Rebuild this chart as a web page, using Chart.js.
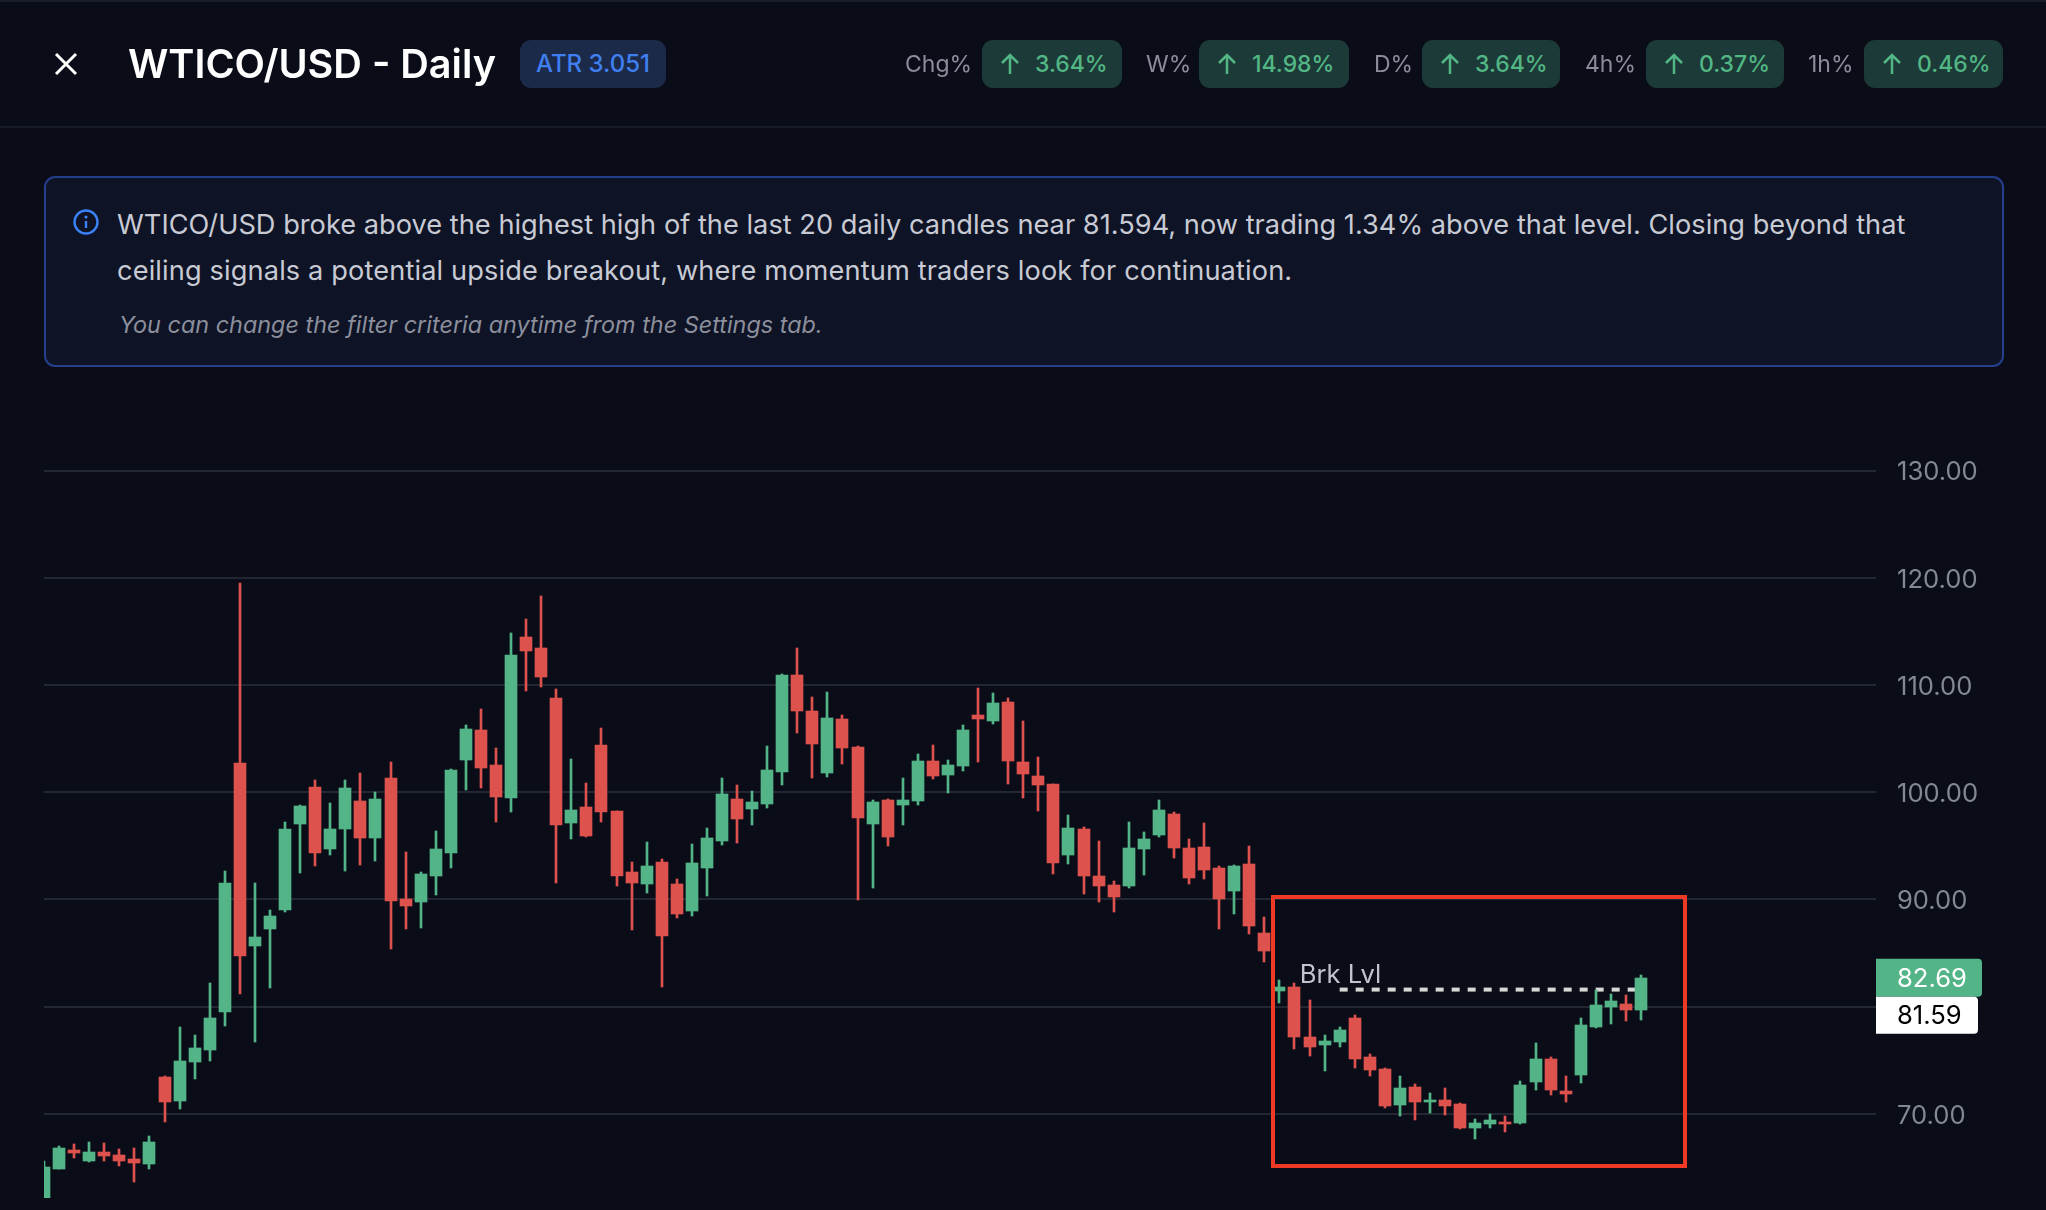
<!DOCTYPE html>
<html>
<head>
<meta charset="utf-8">
<title>WTICO/USD - Daily</title>
<script src="https://cdn.jsdelivr.net/npm/chart.js@4"></script>
<style>
  * { box-sizing: border-box; }
  html, body { margin: 0; width: 2046px; height: 1210px; overflow: hidden; background: #0a0c18; font-family: Inter, "Noto Sans", sans-serif; }
  #chart { position: absolute; left: 0; top: 0; }
  .topline { position: absolute; left: 0; top: 0; width: 2046px; height: 2px; background: #191d2b; }
  .divider { position: absolute; left: 0; top: 126px; width: 2046px; height: 2px; background: #161a27; }
  .close { position: absolute; left: 54px; top: 52px; }
  h1 { position: absolute; left: 128px; top: 40px; margin: 0; font-size: 39.6px; line-height: 48px; font-weight: 600; color: #fff; white-space: nowrap; }
  .atr { position: absolute; left: 520px; top: 40px; width: 146px; height: 48px; border-radius: 11px; background: #1c2a4a; color: #3f7ff0; font-size: 24px; font-weight: 500; line-height: 48px; text-align: center; }
  .lbl { position: absolute; top: 40px; height: 48px; line-height: 48px; font-size: 23px; color: #8b8e9a; white-space: nowrap; }
  .pill { position: absolute; top: 40px; height: 48px; border-radius: 11px; background: #1c3a37; color: #52b685; font-size: 23px; font-weight: 500; line-height: 48px; white-space: nowrap; padding-left: 53px; }
  .pill svg { position: absolute; left: 16px; top: 12px; }
  .info { position: absolute; left: 44px; top: 176px; width: 1960px; height: 191px; border: 2px solid #263f8c; border-radius: 11px; background: #0e1326; }
  .info svg { position: absolute; left: 27px; top: 31px; }
  .info p { position: absolute; left: 71px; margin: 0; color: #c8cad4; font-size: 27.2px; line-height: 46px; white-space: nowrap; }
  .info .note { left: 73px; top: 129px; color: #8c8f9c; font-size: 23.4px; line-height: 36px; font-style: italic; }
  .box { position: absolute; left: 1271px; top: 895px; width: 416px; height: 273px; border: 4px solid #ee3a24; }
</style>
</head>
<body>
<canvas id="chart" width="2046" height="1210"></canvas>

<div class="topline"></div>
<svg class="close" width="24" height="24" viewBox="0 0 24 24"><path d="M2 2 L22 22 M22 2 L2 22" stroke="#fff" stroke-width="3" fill="none"/></svg>
<h1>WTICO/USD - Daily</h1>
<div class="atr">ATR 3.051</div>

<div class="lbl" style="left:905px">Chg%</div>
<div class="pill" style="left:982px;width:140px"><svg width="24" height="24" viewBox="0 0 24 24"><path d="M12 22 V3 M4 11 L12 3 L20 11" stroke="#52b685" stroke-width="2.5" fill="none"/></svg>3.64%</div>
<div class="lbl" style="left:1146px">W%</div>
<div class="pill" style="left:1199px;width:150px"><svg width="24" height="24" viewBox="0 0 24 24"><path d="M12 22 V3 M4 11 L12 3 L20 11" stroke="#52b685" stroke-width="2.5" fill="none"/></svg>14.98%</div>
<div class="lbl" style="left:1374px">D%</div>
<div class="pill" style="left:1422px;width:138px"><svg width="24" height="24" viewBox="0 0 24 24"><path d="M12 22 V3 M4 11 L12 3 L20 11" stroke="#52b685" stroke-width="2.5" fill="none"/></svg>3.64%</div>
<div class="lbl" style="left:1585px">4h%</div>
<div class="pill" style="left:1646px;width:138px"><svg width="24" height="24" viewBox="0 0 24 24"><path d="M12 22 V3 M4 11 L12 3 L20 11" stroke="#52b685" stroke-width="2.5" fill="none"/></svg>0.37%</div>
<div class="lbl" style="left:1808px">1h%</div>
<div class="pill" style="left:1864px;width:139px"><svg width="24" height="24" viewBox="0 0 24 24"><path d="M12 22 V3 M4 11 L12 3 L20 11" stroke="#52b685" stroke-width="2.5" fill="none"/></svg>0.46%</div>
<div class="divider"></div>

<div class="info">
  <svg width="26" height="26" viewBox="0 0 26 26"><circle cx="13" cy="13" r="11.5" stroke="#3b82f6" stroke-width="2.4" fill="none"/><path d="M13 12 V19" stroke="#3b82f6" stroke-width="2.4"/><circle cx="13" cy="8" r="1.6" fill="#3b82f6"/></svg>
  <p style="top:24px;letter-spacing:.02px">WTICO/USD broke above the highest high of the last 20 daily candles near 81.594, now trading 1.34% above that level. Closing beyond that</p>
  <p style="top:70px;letter-spacing:.13px">ceiling signals a potential upside breakout, where momentum traders look for continuation.</p>
  <p class="note">You can change the filter criteria anytime from the Settings tab.</p>
</div>

<div class="box"></div>

<script>
const opens = [62.11, 64.82, 66.61, 65.58, 66.42, 66.15, 65.77, 65.31, 73.43, 71.18,
    74.84, 75.94, 79.49, 102.72, 85.66, 87.22, 89.01, 97.05, 100.48, 94.69,
    96.55, 99.19, 95.74, 101.34, 90.05, 89.77, 92.19, 94.34, 103.02, 105.82,
    102.55, 99.47, 114.49, 113.47, 108.80, 97.14, 98.63, 104.42, 98.26, 92.57,
    91.45, 93.50, 91.46, 88.94, 92.95, 95.47, 99.39, 98.46, 98.93, 101.91,
    110.96, 107.60, 101.82, 106.86, 104.25, 97.06, 99.30, 98.83, 99.21, 102.94,
    101.63, 102.47, 107.23, 106.67, 108.44, 102.85, 101.54, 100.79, 94.17, 96.59,
    92.21, 91.37, 91.28, 94.73, 96.03, 97.99, 94.82, 94.91, 92.95, 90.81,
    93.33, 86.89, 81.50, 81.87, 77.20, 76.45, 76.73, 78.97, 75.33, 74.21,
    70.84, 72.52, 71.12, 71.31, 70.93, 68.69, 69.07, 69.25, 69.16, 72.99,
    75.14, 72.15, 73.64, 78.13, 80.00, 80.28, 79.72];
const highs = [65.58, 66.99, 67.18, 67.37, 67.26, 66.69, 66.80, 67.90, 73.50, 78.08,
    77.35, 82.19, 92.67, 119.52, 91.52, 89.01, 97.24, 98.80, 101.16, 98.99,
    101.16, 101.81, 100.03, 102.83, 94.43, 92.57, 96.39, 102.18, 106.28, 107.78,
    104.14, 114.87, 116.17, 118.32, 109.64, 103.11, 100.87, 106.00, 98.26, 93.50,
    95.37, 93.78, 91.91, 95.19, 96.69, 101.35, 100.70, 100.14, 104.34, 111.06,
    113.48, 108.91, 109.38, 107.23, 104.34, 99.30, 99.39, 101.35, 103.59, 104.43,
    103.03, 106.30, 109.75, 109.28, 108.82, 106.67, 103.31, 100.79, 97.90, 96.78,
    95.47, 91.74, 97.25, 96.31, 99.30, 98.18, 95.66, 97.15, 93.14, 93.23,
    95.01, 88.38, 82.52, 82.24, 80.65, 77.38, 78.13, 79.25, 75.61, 74.30,
    73.55, 72.80, 71.96, 72.43, 71.03, 69.53, 70.00, 69.81, 73.08, 76.64,
    75.33, 73.55, 78.97, 81.59, 81.21, 81.12, 82.99];
const lows = [62.11, 64.82, 65.85, 65.50, 65.58, 65.12, 63.64, 64.82, 69.24, 70.42,
    73.24, 74.91, 78.19, 81.16, 76.70, 81.73, 88.82, 92.48, 93.12, 94.15,
    92.67, 93.20, 93.59, 85.38, 87.25, 87.34, 90.42, 92.94, 100.22, 100.40,
    97.23, 98.16, 109.46, 109.83, 91.54, 95.65, 95.83, 97.23, 91.26, 87.15,
    90.61, 81.84, 88.27, 88.48, 90.34, 95.10, 95.29, 96.97, 98.55, 100.70,
    105.55, 101.35, 101.45, 102.66, 89.97, 91.09, 95.01, 96.97, 98.83, 101.26,
    99.95, 102.01, 102.85, 106.39, 100.79, 99.49, 98.27, 92.40, 93.33, 90.53,
    89.78, 88.85, 91.09, 92.30, 95.85, 93.89, 91.46, 91.93, 87.26, 88.66,
    86.80, 84.18, 80.37, 76.07, 75.42, 74.02, 76.26, 74.30, 73.55, 70.56,
    69.81, 69.44, 70.09, 69.91, 68.60, 67.66, 68.69, 68.32, 69.07, 72.24,
    71.78, 71.12, 72.90, 78.04, 78.41, 78.69, 78.79];
const closes = [65.01, 66.80, 66.34, 66.42, 66.04, 65.58, 65.39, 67.37, 71.10, 74.91,
    76.13, 78.91, 91.52, 84.70, 86.50, 88.44, 96.55, 98.72, 94.34, 96.55,
    100.40, 95.71, 99.38, 89.86, 89.39, 92.38, 94.71, 102.08, 105.91, 102.27,
    99.56, 112.81, 113.19, 110.76, 96.95, 98.35, 95.93, 98.16, 92.19, 91.54,
    93.13, 86.59, 88.65, 93.42, 95.75, 99.86, 97.53, 99.11, 102.10, 110.96,
    107.60, 104.53, 106.95, 104.15, 97.62, 99.11, 95.85, 99.30, 102.94, 101.54,
    102.57, 105.83, 106.86, 108.35, 102.94, 101.73, 100.70, 93.42, 96.69, 92.21,
    91.28, 90.25, 94.82, 95.66, 98.37, 94.82, 92.02, 92.77, 90.06, 93.14,
    87.54, 85.21, 81.87, 77.20, 76.26, 76.82, 77.85, 75.14, 74.11, 70.75,
    72.43, 71.12, 71.31, 70.75, 68.69, 69.16, 69.44, 69.07, 72.71, 75.14,
    72.24, 71.87, 78.32, 80.19, 80.56, 79.72, 82.69];

const breakLevel = 81.59;
const breakFrom = 86;
const breakLabel = 'Brk Lvl';
const priceTicks = [130, 120, 110, 100, 90, 80, 70];

const UP = '#53b587';
const DOWN = '#de524e';
const TICK_FONT = '25.6px Inter, "Noto Sans", sans-serif';
const lastIndex = closes.length - 1;
const candleColors = closes.map((c, i) => c >= opens[i] ? UP : DOWN);

function roundedTag(ctx, x, y, w, h, fill, text, textColor) {
    ctx.fillStyle = fill;
    ctx.beginPath();
    ctx.roundRect(x, y, w, h, [0, 4, 4, 0]);
    ctx.fill();
    ctx.fillStyle = textColor;
    ctx.font = TICK_FONT;
    ctx.textAlign = 'left';
    ctx.textBaseline = 'middle';
    ctx.fillText(text, x + 21, y + h / 2 + 1);
}

// snap candles to whole pixels so the bodies and wicks stay sharp
const snapCandles = {
    id: 'snapCandles',
    afterDatasetsUpdate(chart) {
        chart.data.datasets.forEach((ds, i) => {
            if (ds.type === 'line') return;
            chart.getDatasetMeta(i).data.forEach(el => {
                el.x = Math.round(el.x);
                el.y = Math.round(el.y);
                el.base = Math.round(el.base);
            });
        });
    }
};

// level caption and the two price tags on the right axis
const levelTags = {
    id: 'levelTags',
    afterDraw(chart) {
        const ctx = chart.ctx;
        const x = chart.scales.x;
        const y = chart.scales.y;
        const right = chart.chartArea.right;
        ctx.save();
        ctx.font = TICK_FONT;
        ctx.fillStyle = '#c2c4cb';
        ctx.textAlign = 'left';
        ctx.textBaseline = 'alphabetic';
        ctx.fillText(breakLabel, x.getPixelForValue(breakFrom) - 40, y.getPixelForValue(breakLevel) - 7);

        const lastY = y.getPixelForValue(closes[lastIndex]);
        roundedTag(ctx, right, lastY - 19, 106, 38, UP, closes[lastIndex].toFixed(2), '#ffffff');
        roundedTag(ctx, right, lastY + 19, 102, 37, '#ffffff', breakLevel.toFixed(2), '#000000');
        ctx.restore();
    }
};

new Chart(document.getElementById('chart'), {
    data: {
        datasets: [
            {
                type: 'line',
                data: [{ x: breakFrom, y: breakLevel }, { x: lastIndex, y: breakLevel }],
                borderColor: '#d6d6d6',
                borderWidth: 4,
                borderDash: [8, 8],
                pointRadius: 0,
                order: 3
            },
            {
                type: 'bar',
                data: highs.map((h, i) => ({ x: i, y: [lows[i], h] })),
                backgroundColor: candleColors,
                barThickness: 2,
                grouped: false,
                order: 2
            },
            {
                type: 'bar',
                data: opens.map((o, i) => ({ x: i, y: [o, closes[i]] })),
                backgroundColor: candleColors,
                barThickness: 12,
                grouped: false,
                order: 1
            }
        ]
    },
    options: {
        responsive: false,
        animation: false,
        layout: { padding: { left: 44, top: 417, bottom: 12, right: 0 } },
        plugins: { legend: { display: false }, tooltip: { enabled: false } },
        scales: {
            x: {
                type: 'linear',
                display: false,
                offset: false,
                min: 0,
                max: 121.6
            },
            y: {
                position: 'right',
                min: 62.15,
                max: 135,
                grid: { color: '#222733', lineWidth: 2, drawTicks: false },
                border: { display: false },
                afterFit(axis) {
                    axis.width = 170;
                    axis.paddingTop = 0;
                    axis.paddingBottom = 0;
                },
                afterBuildTicks(axis) { axis.ticks = priceTicks.map(v => ({ value: v })); },
                ticks: {
                    padding: 21,
                    color: '#848892',
                    font: { family: 'Inter, "Noto Sans", sans-serif', size: 25.6, lineHeight: '4px' },
                    // the empty first line nudges the label 2px below its grid line
                    callback: v => ['', v.toFixed(2)]
                }
            }
        }
    },
    plugins: [snapCandles, levelTags]
});
</script>
</body>
</html>
